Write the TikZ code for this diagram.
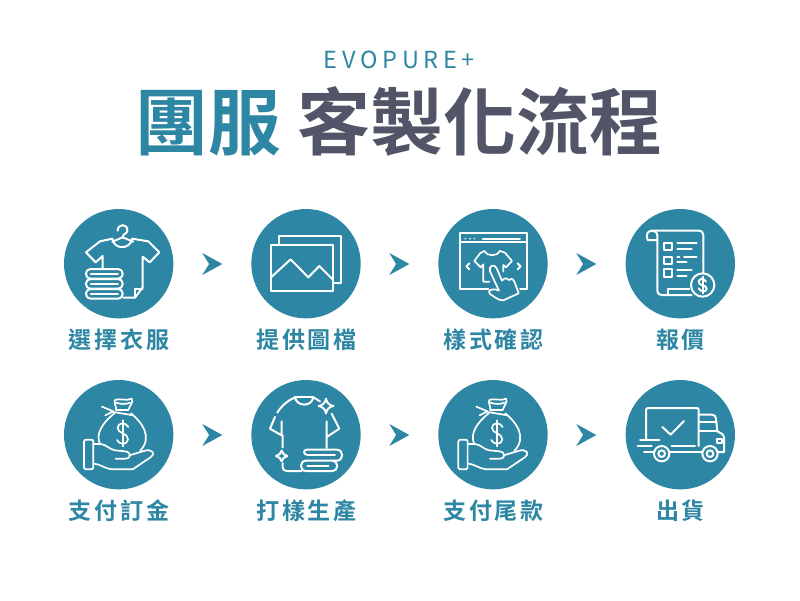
\documentclass[tikz,border=0pt]{standalone}
\usepackage{fontspec}
\setmainfont{Noto Sans CJK TC}
\newfontfamily\titlefont{Noto Sans CJK TC Bold}
\newfontfamily\labelfont[LetterSpace=12]{Noto Sans CJK TC Bold}
\newfontfamily\toplinefont[LetterSpace=20]{Noto Sans CJK TC}
\definecolor{teal}{HTML}{2D86A3}
\definecolor{slate}{HTML}{515567}
\tikzset{
  stepcircle/.style={circle,fill=teal,inner sep=0pt,minimum size=109.4pt},
  steplabel/.style={anchor=base,inner sep=0pt,text=teal,font=\labelfont\fontsize{23}{23}\selectfont},
  ic/.style={draw=white,line width=2pt,line cap=round,line join=round},
  icthin/.style={ic,line width=1.5pt},
  icmid/.style={ic,line width=1.7pt},
  zoomed/.style={x=0.33333pt,y=-0.33333pt},
}
\usetikzlibrary{calc}
\newcommand{\chevronat}[1]{\fill[teal] ($(#1)+(-10,-11)$) -- ($(#1)+(10,0)$) -- ($(#1)+(-10,11)$) -- ($(#1)+(-3.2,0)$) -- cycle;}
\newcommand{\bagicon}{%
  \draw[icmid,rounded corners=2pt] (102,203) -- (130,203) -- (130,292) -- (102,292) -- cycle;
  \draw[icmid] (132,216) -- (152,216) .. controls (170,218) and (178,232) .. (195,235) -- (225,238) .. controls (245,240) and (245,260) .. (225,260) -- (197,260);
  \draw[icmid] (238,250) -- (285,236) .. controls (305,230) and (318,245) .. (303,255) -- (248,292) -- (185,292) .. controls (165,290) and (150,276) .. (132,275);
  \draw[icmid] (193,124) .. controls (160,150) and (135,185) .. (150,216);
  \draw[icmid] (243,124) .. controls (275,150) and (310,195) .. (270,237);
  \draw[icmid] (198,114) .. controls (200,102) and (190,92) .. (195,84) .. controls (205,78) and (232,88) .. (245,80) .. controls (252,90) and (238,102) .. (235,114) -- cycle;
  \draw[icmid] (198,92) .. controls (212,97) and (230,97) .. (240,92);
  \draw[icmid] (190,120) -- (250,130) (190,118) -- (156,104) (190,118) -- (166,130);
  \draw[icmid] (235,165) .. controls (228,150) and (203,150) .. (203,168) .. controls (203,185) and (234,182) .. (234,202) .. controls (234,220) and (205,218) .. (201,204);
  \draw[icmid] (218,145) -- (218,223);
}
\begin{document}
\begin{tikzpicture}[x=1pt,y=-1pt]
\useasboundingbox (0,0) rectangle (800,600);
\fill[white] (0,0) rectangle (800,600);
% titles
\node[anchor=base,inner sep=0pt,text=teal,font=\toplinefont\fontsize{23.5}{23.5}\selectfont] (brand) at (399.5,68) {EVOPURE+};
\node[anchor=base,inner sep=0pt,text=teal,font=\titlefont\fontsize{72.5}{72.5}\selectfont] (t1) at (208,149) {團服};
\node[anchor=base,inner sep=0pt,text=slate,font=\titlefont\fontsize{73}{73}\selectfont] (t2) at (480,149) {客製化流程};
% circles
\node[stepcircle] (a1) at (118.7,263.7) {};
\node[stepcircle] (a2) at (306,263.7) {};
\node[stepcircle] (a3) at (493,263.7) {};
\node[stepcircle] (a4) at (680.3,263.7) {};
\node[stepcircle] (b1) at (118.7,434.7) {};
\node[stepcircle] (b2) at (306,434.7) {};
\node[stepcircle] (b3) at (493,434.7) {};
\node[stepcircle] (b4) at (680.3,434.7) {};
% labels
\node[steplabel] (la1) at (119,348) {選擇衣服};
\node[steplabel] (la2) at (306.5,348) {提供圖檔};
\node[steplabel] (la3) at (493.5,348) {樣式確認};
\node[steplabel] (la4) at (680.5,348) {報價};
\node[steplabel] (lb1) at (119,519) {支付訂金};
\node[steplabel] (lb2) at (306.5,519) {打樣生產};
\node[steplabel] (lb3) at (493.5,519) {支付尾款};
\node[steplabel] (lb4) at (680.5,519) {出貨};
% chevrons
\coordinate (c1) at (212.3,264);
\coordinate (c2) at (399.3,264);
\coordinate (c3) at (586.3,264);
\coordinate (c4) at (212.3,435);
\coordinate (c5) at (399.3,435);
\coordinate (c6) at (586.3,435);
\chevronat{c1}\chevronat{c2}\chevronat{c3}\chevronat{c4}\chevronat{c5}\chevronat{c6}
% icon 1
\begin{scope}[shift={(50,200)},zoomed]
  \draw[ic] (203,92) .. controls (203,70) and (234,70) .. (232,92) .. controls (231,103) and (218,100) .. (218,112);
  \draw[ic] (187,125) -- (218,112) -- (250,125);
  \draw[ic] (187,116) .. controls (192,150) and (240,150) .. (247,116);
  \draw[ic] (187,116) -- (150,124) -- (108,157) -- (137,187) -- (158,168) -- (158,205);
  \draw[ic] (247,116) -- (295,124) -- (328,157) -- (299,187) -- (278,170) -- (278,262) -- (255,293) -- (220,293);
  \draw[ic] (278,268) -- (255,268) -- (255,293);
  \draw[ic,rounded corners=4.5pt] (108,207) rectangle (218,236);
  \draw[ic,rounded corners=4.5pt] (108,237) rectangle (218,266);
  \draw[ic,rounded corners=4.5pt] (108,267) rectangle (218,296);
  \draw[icthin] (122,222) -- (204,222) (122,252) -- (204,252) (122,282) -- (204,282);
\end{scope}
% icon 2
\begin{scope}[shift={(50,200)},zoomed]
  \draw[ic] (687,135) -- (687,108) -- (873,108) -- (873,250) -- (848,250);
  \draw[ic] (663,135) rectangle (848,272);
  \draw[ic] (663,232) -- (722,178) -- (775,232) -- (808,198) -- (848,238);
\end{scope}
% icon 3
\begin{scope}[shift={(420,200)},zoomed]
  \draw[icmid] (205,267) -- (121,267) -- (121,100) -- (320,100) -- (320,267) -- (300,267);
  \draw[icmid] (121,127) -- (320,127);
  \fill[white] (136,116) circle (2.6) (150,116) circle (2.6) (163,116) circle (2.6);
  \draw[icmid] (188,116) -- (300,116);
  \draw[ic] (148,190) -- (139,199) -- (148,208) (293,190) -- (302,199) -- (293,208);
  \draw[icmid] (193,153) .. controls (200,170) and (233,170) .. (240,153);
  \draw[icmid] (193,153) -- (180,160) -- (163,183) -- (182,202) -- (190,193) -- (190,245) -- (208,245);
  \draw[icmid] (240,153) -- (255,158) -- (276,183) -- (258,202) -- (250,195) -- (250,215);
  \draw[icmid] (237,272) -- (210,214) .. controls (205,196) and (224,190) .. (230,205) -- (246,242) .. controls (255,230) and (262,236) .. (268,240) .. controls (275,232) and (282,240) .. (285,250) -- (296,280) -- (250,301) .. controls (240,303) and (235,297) .. (225,292) -- (210,282) .. controls (200,272) and (215,262) .. (237,272);
\end{scope}
% icon 4
\begin{scope}[shift={(420,200)},zoomed]
  \draw[ic] (712,120) -- (683,120) .. controls (676,100) and (685,92) .. (697,92) -- (835,92) .. controls (845,92) and (850,98) .. (850,108) -- (850,220);
  \draw[ic] (697,92) .. controls (706,92) and (712,98) .. (712,108) -- (712,272) .. controls (712,280) and (716,285) .. (725,285) -- (815,285);
  \draw[ic] (745,285) -- (745,268) -- (808,268);
  \draw[ic] (848,255) circle (35);
  \draw[ic] (733,128) rectangle (757,150) (733,170) rectangle (757,192) (733,208) rectangle (757,232);
  \draw[ic] (772,130) -- (830,130) (772,147) -- (815,147) (772,170) -- (778,170) (792,170) -- (830,170) (772,187) -- (800,187) (772,210) -- (815,210) (772,227) -- (800,227);
  \draw[ic] (858,245) .. controls (852,232) and (836,236) .. (836,246) .. controls (836,258) and (860,254) .. (860,266) .. controls (860,276) and (842,278) .. (836,265);
  \draw[ic] (848,230) -- (848,280);
\end{scope}
% icon 5 and 7
\begin{scope}[shift={(50,372)},zoomed]\bagicon\end{scope}
\begin{scope}[shift={(424.3,372)},zoomed]\bagicon\end{scope}
% icon 6
\begin{scope}[shift={(50,372)},zoomed]
  \draw[ic] (735,76) -- (790,76);
  \draw[ic] (735,76) .. controls (740,105) and (785,105) .. (790,76);
  \draw[ic] (735,76) .. controls (715,85) and (695,100) .. (682,122);
  \draw[ic] (675,135) -- (660,170) -- (695,190) -- (695,148);
  \draw[ic] (698,190) -- (698,226) (698,274) -- (698,285) .. controls (698,292) and (702,297) .. (710,297) -- (755,297);
  \draw[ic] (790,76) -- (810,88) (845,125) -- (868,170) -- (830,195) -- (830,148) (830,195) -- (830,228);
  \draw[ic] (828,80) .. controls (830,92) and (838,100) .. (850,102) .. controls (838,104) and (830,112) .. (828,124) .. controls (826,112) and (818,104) .. (806,102) .. controls (818,100) and (826,92) .. (828,80) -- cycle;
  \draw[ic] (695,236) .. controls (697,244) and (703,250) .. (712,252) .. controls (703,254) and (697,260) .. (695,268) .. controls (693,260) and (687,254) .. (678,252) .. controls (687,250) and (693,244) .. (695,236) -- cycle;
  \draw[ic] (770,248) .. controls (760,248) and (760,233) .. (770,233) -- (860,233) .. controls (882,233) and (882,266) .. (860,266) -- (768,266);
  \draw[ic] (768,266) .. controls (748,266) and (748,297) .. (768,297) -- (848,297) .. controls (866,297) and (866,266) .. (848,266);
  \draw[ic] (772,248) -- (855,248) (772,282) -- (835,282);
\end{scope}
% icon 8
\begin{scope}[shift={(420,372)},zoomed]
  \draw[ic] (678,203) -- (678,114) .. controls (678,110) and (681,108) .. (685,108) -- (830,108) .. controls (834,108) and (836,110) .. (836,114) -- (836,222);
  \draw[ic] (755,222) -- (825,222) (660,205) -- (718,205) (653,223) -- (695,223);
  \draw[ic] (727,165) -- (752,188) -- (792,147);
  \draw[ic] (725,245) circle (23) (725,245) circle (10) (870,245) circle (23) (870,245) circle (10);
  \draw[ic] (672,240) -- (700,240) (750,240) -- (846,240);
  \draw[ic] (836,128) -- (876,128) .. controls (884,128) and (887,133) .. (888,140) -- (892,178) -- (905,185) .. controls (910,188) and (912,192) .. (912,198) -- (912,240) -- (895,240);
  \draw[ic] (838,150) -- (886,150) (838,178) -- (890,178);
  \draw[ic] (892,200) -- (906,200) -- (906,213) -- (892,213) -- cycle;
\end{scope}
\end{tikzpicture}
\end{document}
